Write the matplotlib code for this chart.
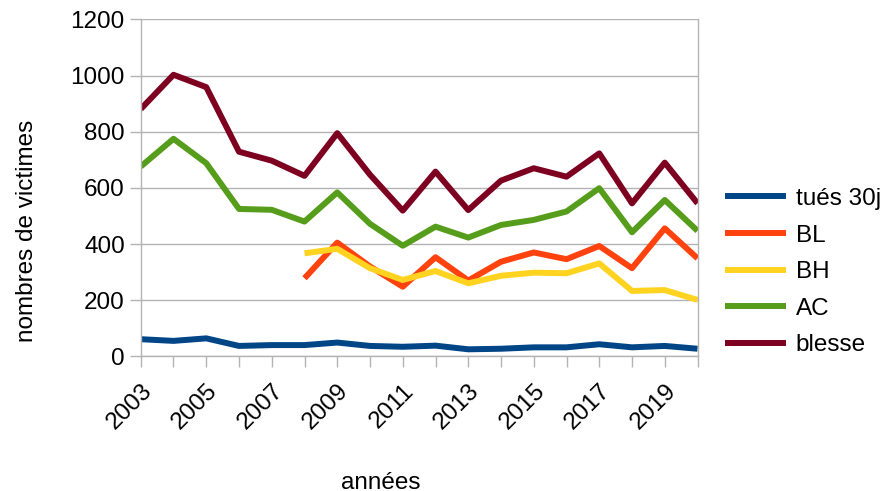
import matplotlib
matplotlib.use("Agg")
import matplotlib.pyplot as plt
import numpy as np

plt.rcParams['font.family'] = ['Liberation Sans', 'DejaVu Sans']

years = list(range(2003, 2021))
years_b = list(range(2008, 2021))

tues_30j = [61, 55, 64, 37, 40, 40, 49, 37, 34, 38, 25, 27, 32, 32, 43, 32, 37, 27]
bl = [278, 405, 320, 248, 353, 270, 337, 370, 346, 393, 314, 456, 349]
bh = [367, 383, 314, 272, 304, 260, 287, 298, 296, 331, 233, 236, 201]
ac = [676, 775, 688, 525, 522, 480, 584, 472, 394, 462, 423, 468, 486, 516, 599, 442, 557, 447]
blesse = [881, 1003, 959, 729, 697, 643, 795, 647, 519, 658, 521, 626, 670, 640, 723, 545, 690, 545]

series = [
    ("tués 30j", years, tues_30j, "#004586"),
    ("BL", years_b, bl, "#ff420e"),
    ("BH", years_b, bh, "#ffd320"),
    ("AC", years, ac, "#579d1c"),
    ("blesse", years, blesse, "#7e0021"),
]

fig = plt.figure(figsize=(8.88, 4.91), dpi=100)
ax = fig.add_axes([0.1585, 0.2743, 0.627, 0.686])

for name, xs, ys, col in series:
    ax.plot(xs, ys, color=col, lw=4.3, label=name,
            solid_capstyle='butt', solid_joinstyle='round')

ax.set_xlim(2003, 2020)
ax.set_ylim(0, 1200)
ax.set_yticks(np.arange(0, 1201, 200))
ax.set_xticks(years)
ax.set_xticklabels([str(y) if y % 2 == 1 else "" for y in years],
                   rotation=45, ha='right', va='top', rotation_mode='anchor')
ax.grid(axis='y', color='#b3b3b3', lw=1)
ax.set_axisbelow(True)
for s in ax.spines.values():
    s.set_color('#b3b3b3')
    s.set_linewidth(1)
ax.spines['top'].set_visible(False)
ax.tick_params(axis='both', colors='#b3b3b3', labelcolor='black',
               labelsize=17.5, length=8, width=1)
ax.tick_params(axis='x', pad=9)

fig.text(27 / 888, 1 - 231 / 491, "nombres de victimes", rotation=90,
         ha='center', va='center', fontsize=17.5)
fig.text(381 / 888, 1 - 483 / 491, "années", ha='center', va='center',
         fontsize=17.5)

leg = ax.legend(loc='center left', bbox_to_anchor=(1.0, 0.25), frameon=False,
                fontsize=17.5, handlelength=2.5, handletextpad=0.4,
                labelspacing=0.6, borderaxespad=0.74)

fig.savefig("out.png", dpi=100)
